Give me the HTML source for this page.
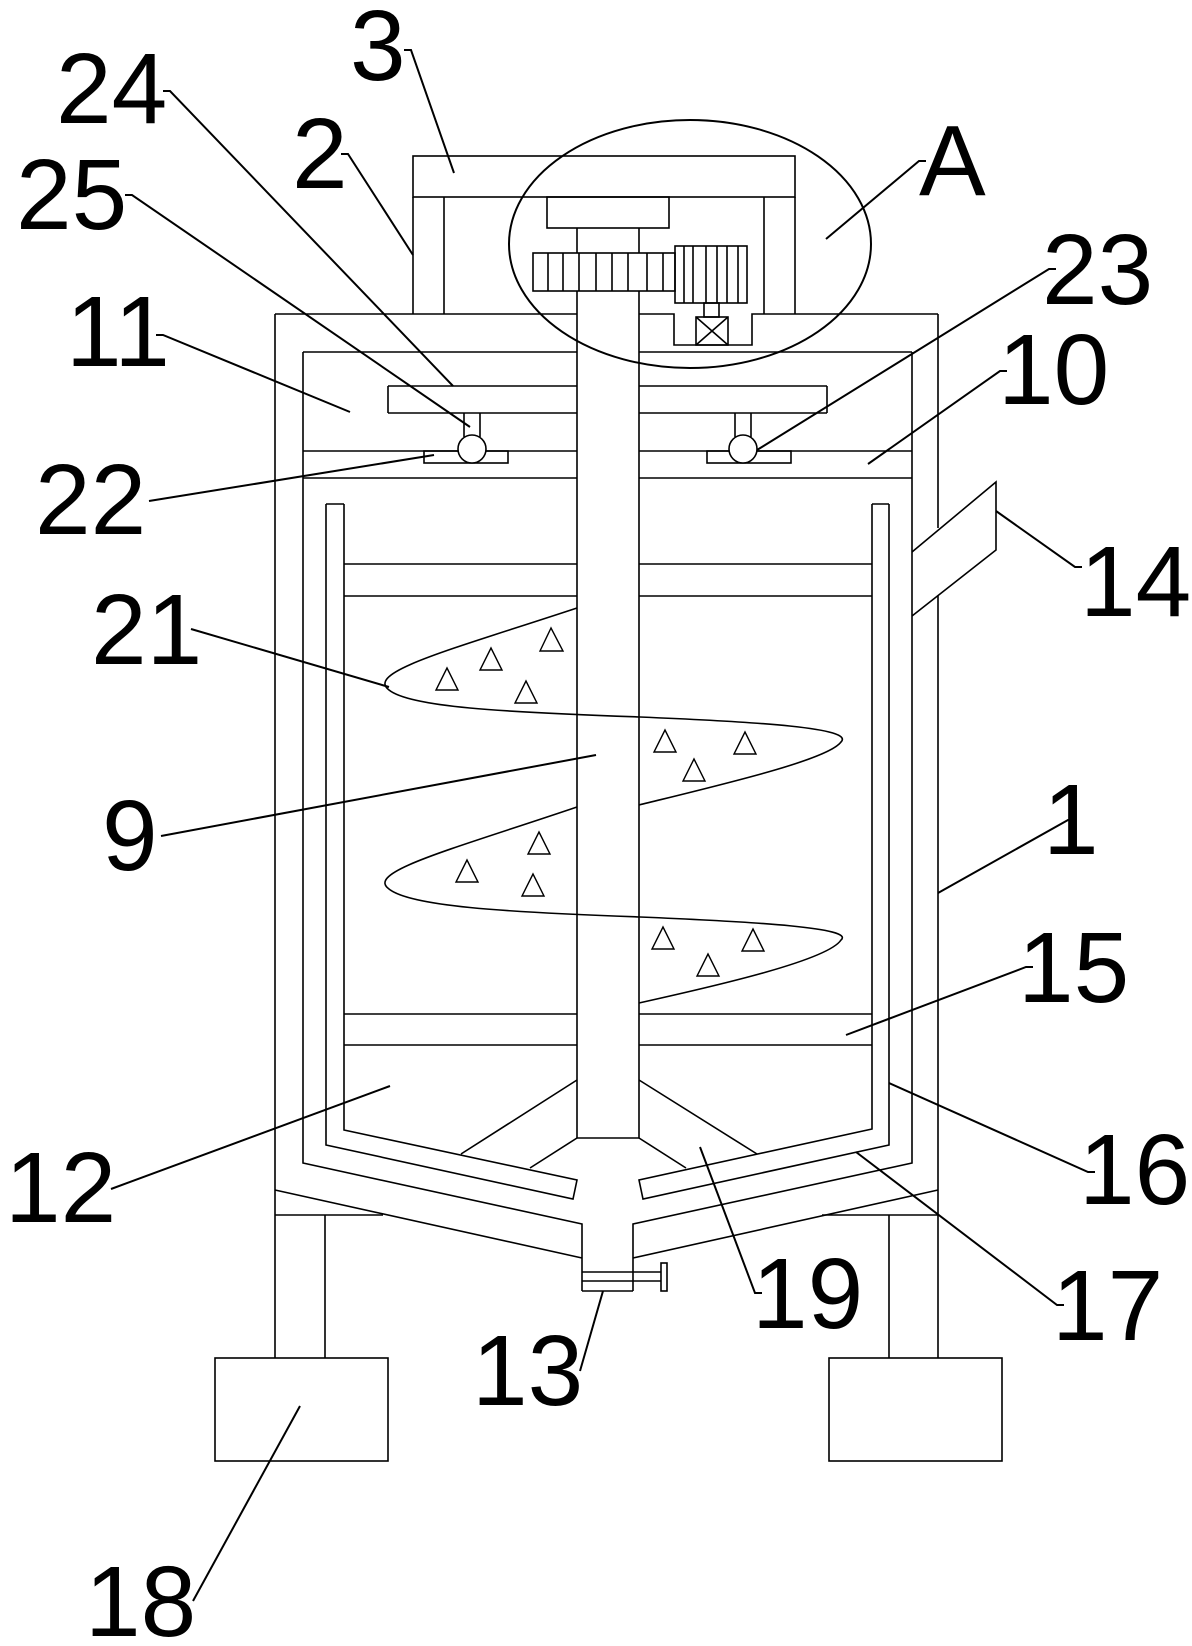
<!DOCTYPE html>
<html><head><meta charset="utf-8"><style>html,body{margin:0;padding:0;background:#fff}svg{display:block}</style></head><body>
<svg width="1192" height="1646" viewBox="0 0 1192 1646" xmlns="http://www.w3.org/2000/svg">
<g fill="none" stroke="#000" stroke-width="1.6">
<!-- top frame -->
<rect x="413" y="156" width="382" height="41"/>
<line x1="413" y1="197" x2="413" y2="314"/><line x1="444" y1="197" x2="444" y2="314"/>
<line x1="764" y1="197" x2="764" y2="314"/><line x1="795" y1="197" x2="795" y2="314"/>
<rect x="547" y="197" width="122" height="31"/>
<!-- gears -->
<rect x="533" y="253" width="142" height="38"/>
<path d="M548,253V291M563,253V291M579,253V291M596,253V291M612,253V291M628,253V291M647,253V291M663,253V291"/>
<rect x="675" y="246" width="72" height="57"/>
<path d="M684,246V303M693,246V303M706,246V303M717,246V303M727,246V303M738,246V303"/>
<rect x="704" y="303" width="15" height="14"/>
<rect x="696" y="317" width="32" height="28"/>
<path d="M696,317L728,345M728,317L696,345"/>
<!-- shaft -->
<path d="M577,228V253M639,228V253M577,291V1138M639,291V1138M577,1138H639"/>
<!-- tank top -->
<path d="M275,314H577M639,314H674V345H752V314H938"/>
<path d="M275,314V1358M938,314V528M938,596V1358"/>
<!-- jacket -->
<path d="M303,352H577M639,352H912"/>
<path d="M303,352V1163L582,1224V1291M912,352V1163L633,1224V1291"/>
<path d="M275,1190L582,1258M938,1190L633,1258"/>
<path d="M582,1272H661M582,1281H661M582,1291H633"/>
<rect x="661" y="1263" width="6" height="28"/>
<!-- bar 24 -->
<path d="M388,386H577M639,386H827M388,413H577M639,413H827M388,386V413M827,386V413"/>
<path d="M303,451H577M639,451H912M303,478H577M639,478H912"/>
<rect x="424" y="451" width="84" height="12"/>
<rect x="707" y="451" width="84" height="12"/>
<path d="M464,413V437M480,413V437M735,413V437M751,413V437"/>
<circle cx="472" cy="449" r="14" fill="#fff"/>
<circle cx="743" cy="449" r="14" fill="#fff"/>
<!-- basket -->
<path d="M326,504H344M872,504H889"/>
<path d="M326,504V1145L573,1199L577,1180L344,1130V504"/>
<path d="M889,504V1145L643,1199L639,1180L872,1129V504"/>
<path d="M344,564H577M639,564H872M344,596H577M639,596H872M344,1014H577M639,1014H872M344,1045H577M639,1045H872"/>
<path d="M577,1080L461,1154M577,1138L530,1168M639,1080L757,1154M639,1138L686,1168"/>
<!-- pipe 14 -->
<path d="M912,552L996,482V550L912,616"/>
<!-- spiral -->
<path d="M577,608C450,650 365,672 389,690C410,707 500,712 640,717C760,722 855,728 841,742C828,760 720,785 639,805"/>
<path d="M577,807C450,850 365,872 389,889C410,906 500,912 640,917C760,922 855,928 841,940C828,960 720,985 639,1003"/>
<!-- legs -->
<path d="M275,1215H383M325,1215V1358M822,1215H938M889,1215V1358"/>
<rect x="215" y="1358" width="173" height="103"/>
<rect x="829" y="1358" width="173" height="103"/>
<!-- ellipse A -->
<ellipse cx="690" cy="244" rx="181" ry="124" stroke-width="2"/>
</g>
<g fill="none" stroke="#000" stroke-width="1.4" stroke-linejoin="miter">
<path d="M551,628L540,651H563Z"/><path d="M491,648L480,670H502Z"/><path d="M447,668L436,690H458Z"/><path d="M526,681L515,703H537Z"/>
<path d="M539,832L528,854H550Z"/><path d="M467,860L456,882H478Z"/><path d="M533,874L522,896H544Z"/>
<path d="M665,730L654,752H676Z"/><path d="M745,732L734,754H756Z"/><path d="M694,759L683,781H705Z"/>
<path d="M663,927L652,949H674Z"/><path d="M753,929L742,951H764Z"/><path d="M708,954L697,976H719Z"/>
</g>
<!-- leaders -->
<g fill="none" stroke="#000" stroke-width="2">
<path d="M404,50H411L454,173"/>
<path d="M163,91H170L453,386"/>
<path d="M341,154H348L413,255"/>
<path d="M125,195H132L470,427"/>
<path d="M156,335H163L350,412"/>
<path d="M149,501L434,455"/>
<path d="M926,161H919L826,239"/>
<path d="M1056,269H1049L757,450"/>
<path d="M1007,371H1000L868,464"/>
<path d="M191,629L389,687"/>
<path d="M161,836L596,755"/>
<path d="M1075,820H1068L938,893"/>
<path d="M1033,967H1026L846,1035"/>
<path d="M996,511L1075,567H1082"/>
<path d="M111,1189L390,1086"/>
<path d="M580,1371L603,1291"/>
<path d="M193,1601L300,1406"/>
<path d="M1095,1172H1088L889,1083"/>
<path d="M762,1293H755L700,1147"/>
<path d="M1064,1305H1057L856,1152"/>
</g>
<g font-family="'Liberation Sans', Arial, sans-serif" font-size="100" fill="#000">
<text x="350" y="80">3</text>
<text x="56" y="123">24</text>
<text x="292" y="188">2</text>
<text x="16" y="229">25</text>
<text x="66" y="366">11</text>
<text x="35" y="534">22</text>
<text x="919" y="195">A</text>
<text x="1042" y="304">23</text>
<text x="998" y="404">10</text>
<text x="91" y="664">21</text>
<text x="102" y="870">9</text>
<text x="1043" y="854">1</text>
<text x="1018" y="1002">15</text>
<text x="1080" y="616">14</text>
<text x="5" y="1222">12</text>
<text x="472" y="1405">13</text>
<text x="85" y="1636">18</text>
<text x="1079" y="1204">16</text>
<text x="752" y="1328">19</text>
<text x="1052" y="1340">17</text>
</g>
</svg>
</body></html>
